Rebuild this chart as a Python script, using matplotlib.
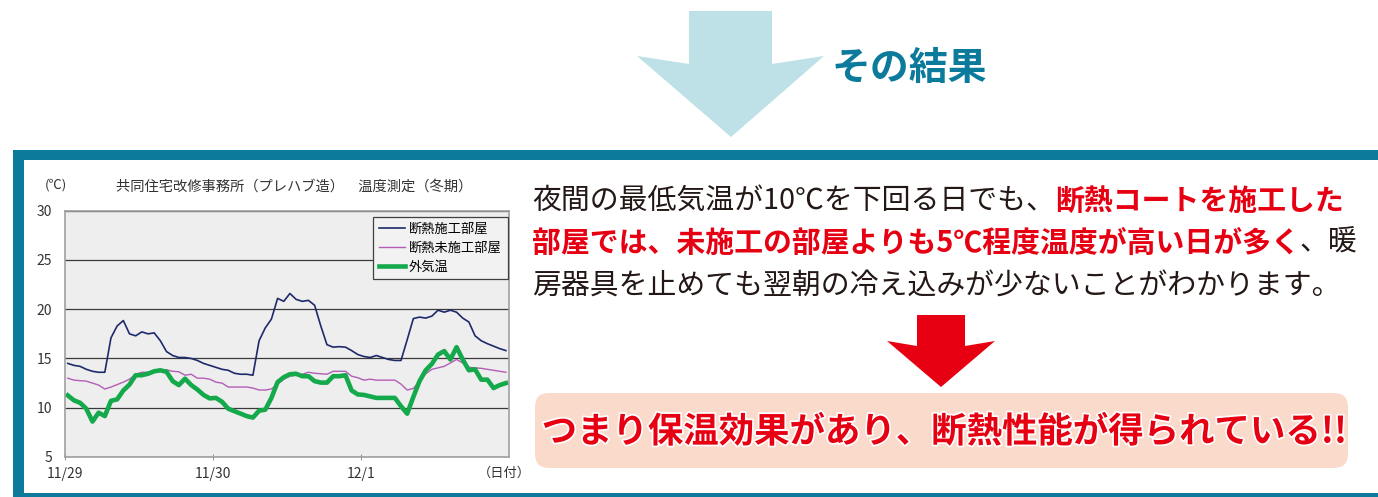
import numpy as np
import matplotlib.pyplot as plt
from matplotlib.patches import Rectangle, Polygon, FancyBboxPatch
import matplotlib.patheffects as pe

plt.rcParams['font.family'] = ['Noto Sans CJK JP', 'DejaVu Sans']

# hourly readings (11/29 - 12/1), one value per hour
hours = np.arange(72) + 0.5

insulated = [14.5, 14.3, 14.2, 13.9, 13.7, 13.6, 13.6, 17.1, 18.3, 18.85, 17.5, 17.3,
             17.7, 17.5, 17.6, 16.8, 15.7, 15.3, 15.1, 15.1, 15.0, 14.8, 14.5, 14.3,
             14.1, 13.9, 13.8, 13.5, 13.4, 13.4, 13.3, 16.8, 18.1, 19.0, 21.1, 20.8,
             21.6, 21.0, 20.8, 20.9, 20.4, 18.3, 16.4, 16.15, 16.2, 16.15, 15.8, 15.4,
             15.2, 15.1, 15.3, 15.1, 14.9, 14.8, 14.8, 16.9, 19.05, 19.2, 19.1, 19.3,
             19.9, 19.7, 19.9, 19.7, 19.1, 18.7, 17.3, 16.8, 16.5, 16.25, 16.0, 15.8]

uninsulated = [13.0, 12.8, 12.75, 12.7, 12.5, 12.3, 11.9, 12.1, 12.35, 12.6, 12.9, 13.4,
               13.6, 13.6, 13.7, 13.8, 13.85, 13.7, 13.65, 13.3, 13.4, 13.0, 13.0, 12.9,
               12.6, 12.5, 12.1, 12.1, 12.1, 12.1, 12.0, 11.8, 11.8, 11.9, 12.4, 12.9,
               13.2, 13.3, 13.4, 13.6, 13.5, 13.45, 13.4, 13.7, 13.7, 13.7, 13.2, 13.05,
               12.8, 12.9, 12.8, 12.8, 12.8, 12.8, 12.4, 11.8, 11.95, 12.7, 13.45, 13.9,
               14.05, 14.2, 14.55, 14.9, 14.55, 14.1, 14.05, 14.0, 13.9, 13.8, 13.7, 13.6]

outdoor = [11.25, 10.75, 10.5, 9.9, 8.6, 9.5, 9.15, 10.7, 10.85, 11.75, 12.35, 13.3,
           13.3, 13.45, 13.7, 13.8, 13.65, 12.7, 12.3, 12.95, 12.3, 11.85, 11.3, 10.95,
           11.0, 10.6, 9.9, 9.65, 9.4, 9.15, 9.0, 9.7, 9.8, 11.0, 12.6, 13.1,
           13.4, 13.45, 13.2, 13.2, 12.7, 12.55, 12.55, 13.2, 13.2, 13.3, 11.75, 11.35,
           11.3, 11.15, 11.0, 11.0, 11.0, 11.0, 10.15, 9.4, 11.1, 12.7, 13.8, 14.45,
           15.4, 15.75, 14.9, 16.15, 14.9, 13.8, 13.9, 12.85, 12.85, 12.0, 12.3, 12.5]

series_labels = ["断熱施工部屋", "断熱未施工部屋", "外気温"]
date_labels = ["11/29", "11/30", "12/1"]
y_ticks = [5, 10, 15, 20, 25, 30]

TEAL = "#0b7a9b"
RED = "#e60012"
INK = "#231815"

W, H = 1378, 497
fig = plt.figure(figsize=(W / 100, H / 100), dpi=100, facecolor="white")

# full-figure layer in pixel coordinates for the page decoration
bg = fig.add_axes([0, 0, 1, 1])
bg.set_xlim(0, W)
bg.set_ylim(H, 0)
bg.axis("off")

# light blue arrow + heading
bg.add_patch(Polygon([(689, 11), (772, 11), (772, 64), (824, 56), (731, 137),
                      (637, 56), (689, 64)], closed=True, color="#bde1e7", lw=0))
bg.text(909, 68, "その結果", fontsize=28, fontweight="bold", color=TEAL,
        ha="center", va="center")

# teal frame
bg.add_patch(Rectangle((13, 150), W - 13, 10, color=TEAL, lw=0))
bg.add_patch(Rectangle((13, 150), 11, H - 150, color=TEAL, lw=0))
bg.add_patch(Rectangle((13, 493), W - 13, 4, color=TEAL, lw=0))

# chart labels
bg.text(56, 185, "(℃)", fontsize=9.5, color="#333333", ha="center", va="center")
bg.text(294, 187, "共同住宅改修事務所（プレハブ造）　温度測定（冬期）", fontsize=10.3,
        color="#333333", ha="center", va="center")
bg.text(504, 473, "（日付）", fontsize=9.5, color="#333333", ha="center", va="center")


def colored_line(x, y, parts, size):
    prev = None
    for txt, color, weight in parts:
        if prev is None:
            prev = bg.text(x, y, txt, fontsize=size, color=color, fontweight=weight,
                           ha="left", va="center")
        else:
            prev = bg.annotate(txt, xy=(1, 0.5), xycoords=prev, fontsize=size,
                               color=color, fontweight=weight, ha="left", va="center")


colored_line(532, 201, [("夜間の最低気温が10℃を下回る日でも、", INK, "normal"),
                        ("断熱コートを施工した", RED, "bold")], 20.8)
colored_line(532, 243, [("部屋では、未施工の部屋よりも5℃程度温度が高い日が多く", RED, "bold"),
                        ("、暖", INK, "normal")], 20.8)
colored_line(532, 286, [("房器具を止めても翌朝の冷え込みが少ないことがわかります。", INK, "normal")], 20.8)

# red arrow
bg.add_patch(Polygon([(917, 315), (965, 315), (965, 346), (995, 341), (941, 387),
                      (887, 341), (917, 346)], closed=True, color=RED, lw=0))

# conclusion box
bg.add_patch(FancyBboxPatch((535, 393), 813, 75, boxstyle="round,pad=0,rounding_size=14",
                            facecolor="#fadbcb", edgecolor="none"))
bg.text(944, 432, "つまり保温効果があり、断熱性能が得られている!!", fontsize=25.5,
        fontweight="bold", color=RED, ha="center", va="center",
        path_effects=[pe.withStroke(linewidth=2.5, foreground="white")])

# temperature chart
ax = fig.add_axes([64.7 / W, (H - 457) / H, 444.3 / W, 246.3 / H])
ax.set_facecolor("#eeeeee")
x_days = hours / 24
ax.plot(x_days, insulated, color="#1f2a6b", lw=1.2, label=series_labels[0])
ax.plot(x_days, uninsulated, color="#b35db6", lw=1.0, label=series_labels[1])
ax.plot(x_days, outdoor, color="#14a94b", lw=3.3, label=series_labels[2])

ax.set_xlim(0, 3)
ax.set_ylim(5, 30)
ax.set_yticks(y_ticks)
ax.set_xticks(range(len(date_labels)))
ax.set_xticklabels(date_labels)
ax.tick_params(axis="y", length=0, pad=9, labelsize=10, labelcolor="#333333")
ax.tick_params(axis="x", direction="inout", length=5, color="#999999", pad=5,
               labelsize=10, labelcolor="#333333")
ax.grid(axis="y", color="#3a3a3a", lw=0.9)
for s in ax.spines.values():
    s.set_color("#a0a0a0")
    s.set_linewidth(1.2)

leg = ax.legend(loc="upper right", bbox_to_anchor=(0.997, 0.976), borderaxespad=0,
                fontsize=9.5, handlelength=2.0, handletextpad=0.3, labelspacing=0.45,
                borderpad=0.45, fancybox=False, framealpha=1, facecolor="#f2f2f2",
                edgecolor="#404040")
leg.get_frame().set_linewidth(0.9)

fig.savefig("out.png", dpi=100)
